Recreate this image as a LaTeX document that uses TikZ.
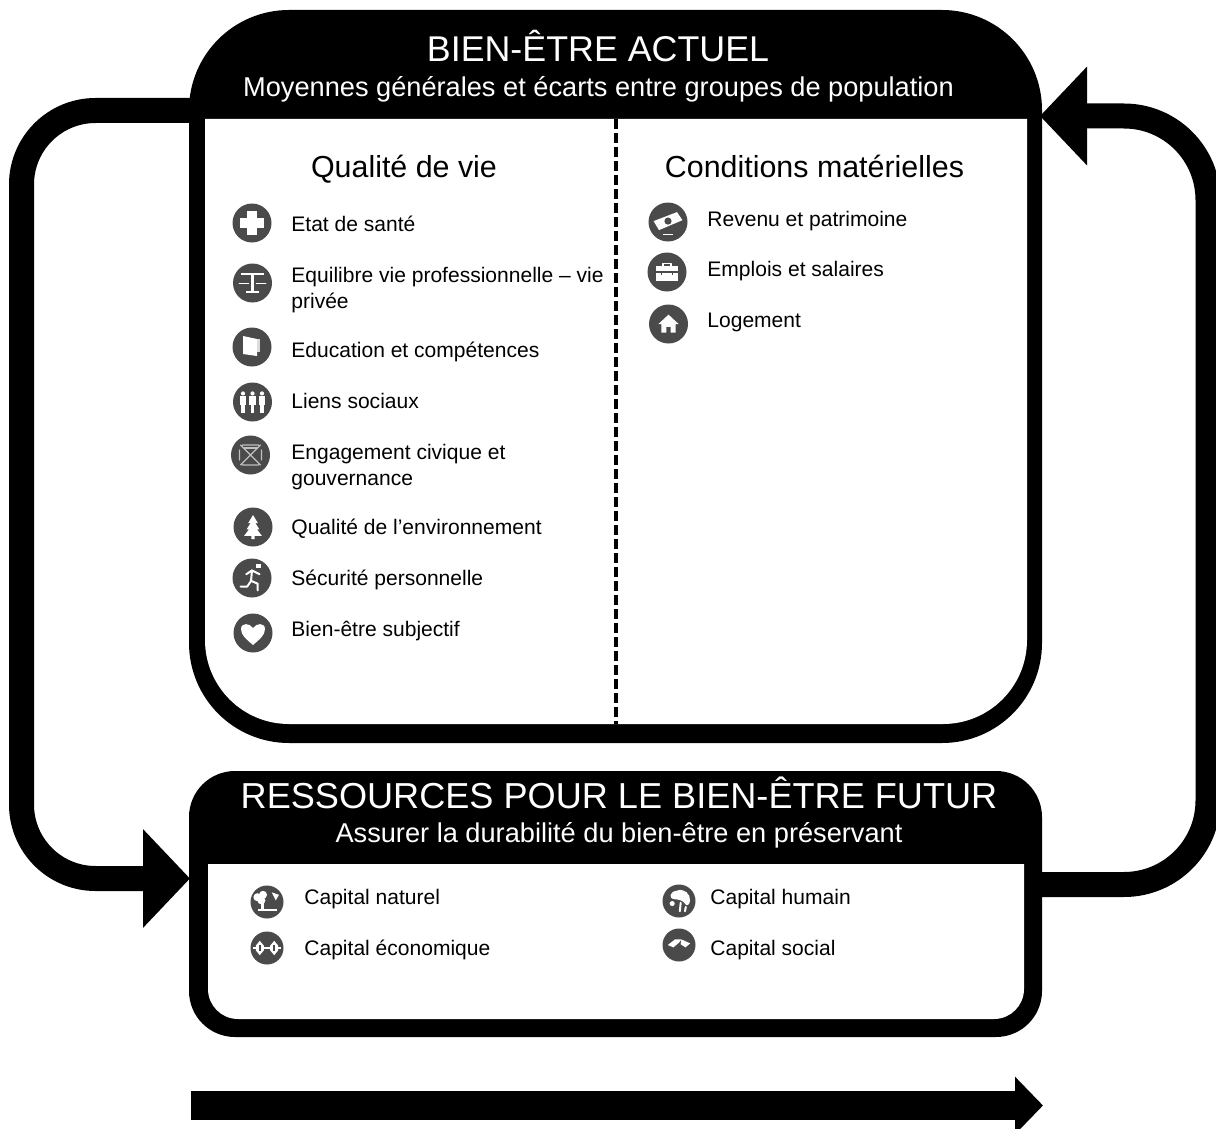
\documentclass[tikz,border=0pt]{standalone}
\usepackage{fontspec}
\setmainfont{Liberation Sans}
\usetikzlibrary{arrows.meta}
\definecolor{icong}{HTML}{4A4A4A}
\tikzset{
  shellbox/.style={fill=black,draw=none,inner sep=0pt,outer sep=0pt},
  loopline/.style={draw=black,line width=12.5pt,-{Triangle[length=23.5pt,width=48pt]}},
  body/.style={anchor=base west,inner sep=0pt,font=\fontsize{10.52}{13}\selectfont,text=black},
  bodytwo/.style={anchor=north west,align=left,inner sep=0pt,font=\fontsize{10.52}{13}\selectfont,text=black},
  headtxt/.style={anchor=base,inner sep=0pt,text=white},
  coltitle/.style={anchor=base,inner sep=0pt,font=\fontsize{15.2}{18}\selectfont,text=black},
  iconc/.style={circle,fill=icong,draw=none,inner sep=0pt,minimum size=#1},
  glyph/.style={fill=white,draw=none},
  gl/.style={draw=white,line width=.8pt,line cap=round,line join=round},
  gld/.style={fill=icong,draw=none}
}
\newcommand{\icn}[6]{% name x y diameter scale glyph
  \node[iconc=#4] (#1) at (#2,#3) {};
  \begin{scope}[shift={(#2,#3)},scale=#5]#6\end{scope}}
\newcommand{\gplus}{\fill[glyph] (-5,-13) rectangle (5,13); \fill[glyph] (-13,-5) rectangle (13,5);}
\newcommand{\gbal}{\fill[glyph] (-12,-11) rectangle (12,-8); \fill[glyph] (-1.2,-8) rectangle (1.2,9); \fill[glyph] (-7,8) rectangle (7,10.5);
  \draw[gl,line width=.5pt] (-14,1)--(-4,1) (4,1)--(14,1);}
\newcommand{\gbook}{\fill[glyph] (-9,-11)--(5,-8)--(5,9)--(-9,7)--cycle; \fill[white!80!icong] (5,-8) rectangle (8,5);}
\newcommand{\gpeople}{\foreach \a in {-10,0,10}{\fill[glyph] (\a,-9) circle (2.2); \fill[glyph] (\a-3.2,-6) rectangle (\a+3.2,3); \fill[glyph] (\a-1.8,3) rectangle (\a+1.8,12);}}
\newcommand{\gballot}{\draw[gl,draw=white!65!icong,line width=.7pt] (-10,-10)--(10,10) (10,-10)--(-10,10) (-8,-10)--(8,-10) (-8,10)--(8,10) (-11,-5)--(-11,5) (11,-5)--(11,5);
  \fill[white!65!icong] (-7,-8) rectangle (7,-6);}
\newcommand{\gtree}{\fill[glyph] (0,-15)--(6,-5)--(3,-5)--(8,3)--(5,3)--(11,11)--(2,11)--(2,15)--(-2,15)--(-2,11)--(-11,11)--(-5,3)--(-8,3)--(-3,-5)--(-6,-5)--cycle;}
\newcommand{\grun}{\fill[glyph] (4,-15) rectangle (9,-11); \draw[gl,line width=1pt] (-6,-4)--(0,-8)--(8,-4) (0,-8)--(-1,3)--(6,6)--(6,13) (-1,3)--(-5,9)--(-12,9);}
\newcommand{\gheart}{\fill[glyph] (0,15) .. controls (-8,8) and (-15,3) .. (-15,-5) .. controls (-15,-13) and (-4,-13) .. (0,-6) .. controls (4,-13) and (15,-13) .. (15,-5) .. controls (15,3) and (8,8) .. (0,15) -- cycle;}
\newcommand{\gmoney}{\fill[glyph] (-16,-1)--(10,-11)--(16,-2)--(-10,9)--cycle; \fill[gld] (0,-1) circle (4); \fill[glyph] (-6,13) rectangle (6,14);}
\newcommand{\gcase}{\draw[gl,line width=.7pt] (-5,-8)--(-5,-11)--(5,-11)--(5,-8); \fill[glyph] (-14,-8) rectangle (14,11); \fill[gld] (-14,-1) rectangle (14,1.5); \fill[gld] (-8,-1) rectangle (-6,4); \fill[gld] (6,-1) rectangle (8,4);}
\newcommand{\ghouse}{\fill[glyph] (0,-13)--(14,0)--(10,0)--(10,12)--(3,12)--(3,4)--(-3,4)--(-3,12)--(-10,12)--(-10,0)--(-14,0)--cycle;}
\newcommand{\gnat}{\fill[glyph] (-12,-6) circle (5); \fill[glyph] (-5,-9) circle (5); \fill[glyph] (-7,-2) circle (5); \fill[glyph] (-7,0) rectangle (-4,9); \fill[glyph] (6,-12)--(15,-9)--(11,-2)--cycle; \fill[glyph] (-11,9) rectangle (13,11);}
\newcommand{\geco}{\fill[glyph] (-18,-1.5) rectangle (18,1.5); \foreach \a in {-9,9}{\fill[glyph] (\a,-9)--(\a+5,-3)--(\a+5,3)--(\a,9)--(\a-5,3)--(\a-5,-3)--cycle; \fill[gld] (\a-1,-4) rectangle (\a+1,4);}}
\newcommand{\ghum}{\fill[glyph] (-3,-12) .. controls (6,-16) and (14,-8) .. (13,0) .. controls (12,6) and (8,6) .. (7,3) .. controls (4,-1) and (-1,-2) .. (-5,-2) .. controls (-13,-3) and (-11,-11) .. (-3,-12) -- cycle; \fill[glyph] (-8,3) circle (3); \draw[gl,line width=1pt] (2,2)--(1,12) (8,7)--(7,12);}
\newcommand{\gsoc}{\fill[glyph] (-14,0)--(-5,-7)--(3,-7)--(0,-3)--(-7,3)--cycle; \fill[glyph] (3,-7)--(14,-2)--(8,3)--(2,-1)--cycle;}
\begin{document}
\begin{tikzpicture}[x=.5pt,y=-.5pt]
\clip (0,0) rectangle (1216,1129);
% feedback loops (below the boxes)
\coordinate (ltop) at (200,110.5);
\coordinate (ltip) at (190,878.5);
\coordinate (rbot) at (1035,884.5);
\coordinate (rtip) at (1040,116);
\draw[loopline,rounded corners=37pt] (ltop) -- (21.5,110.5) -- (21.5,878.5) -- (ltip);
\draw[loopline,rounded corners=42pt] (rbot) -- (1208,884.5) -- (1208,116) -- (rtip);
% upper box
\node[shellbox,rounded corners=50pt,minimum width=426.5pt,minimum height=366.5pt] (topbox) at (615.5,376.5) {};
\fill[white,rounded corners=0pt] (205,119) -- (1027,119) [rounded corners=42pt] -- (1027,724) -- (205,724) [rounded corners=0pt] -- cycle;
\draw[black,line width=2pt,dash pattern=on 5pt off 2pt] (616,119) -- (616,724);
\node[headtxt,font=\fontsize{17.9}{20}\selectfont] (t1) at (598,62) {BIEN-ÊTRE ACTUEL};
\node[headtxt,font=\fontsize{13.6}{16}\selectfont] (t2) at (598.5,97) {Moyennes générales et écarts entre groupes de population};
\node[coltitle] (c1) at (404,177) {Qualité de vie};
\node[coltitle] (c2) at (814.5,177) {Conditions matérielles};
% left column
\icn{i1}{252}{223}{19.5pt}{.95}{\gplus}
\node[body] (a1) at (291,231) {Etat de santé};
\icn{i2}{252.5}{283}{19.5pt}{.95}{\gbal}
\node[bodytwo] (a2) at (291,266.5) {Equilibre vie professionnelle – vie\\privée};
\icn{i3}{252}{347}{19.5pt}{1}{\gbook}
\node[body] (a3) at (291,357) {Education et compétences};
\icn{i4}{252.5}{402}{19.5pt}{.95}{\gpeople}
\node[body] (a4) at (291,408) {Liens sociaux};
\icn{i5}{250.5}{455}{19.5pt}{1}{\gballot}
\node[bodytwo] (a5) at (291,443.5) {Engagement civique et\\gouvernance};
\icn{i6}{253}{527}{19.5pt}{.8}{\gtree}
\node[body] (a6) at (291,534) {Qualité de l’environnement};
\icn{i7}{252}{578}{19.5pt}{.95}{\grun}
\node[body] (a7) at (291,585) {Sécurité personnelle};
\icn{i8}{253}{633}{19.5pt}{.8}{\gheart}
\node[body] (a8) at (291,636) {Bien-être subjectif};
% right column
\icn{j1}{668}{222}{19.5pt}{.9}{\gmoney}
\node[body] (b1) at (707,227) {Revenu et patrimoine};
\icn{j2}{667}{272}{19.5pt}{.8}{\gcase}
\node[body] (b2) at (707,276) {Emplois et salaires};
\icn{j3}{668.5}{324}{19.5pt}{.72}{\ghouse}
\node[body] (b3) at (707,327) {Logement};
% lower box
\node[shellbox,rounded corners=23pt,minimum width=426.5pt,minimum height=133pt] (botbox) at (615.5,904) {};
\fill[white,rounded corners=0pt] (208,864) -- (1024,864) [rounded corners=15pt] -- (1024,1019) -- (208,1019) [rounded corners=0pt] -- cycle;
\node[headtxt,font=\fontsize{18.06}{22}\selectfont] (t3) at (619,808) {RESSOURCES POUR LE BIEN-ÊTRE FUTUR};
\node[headtxt,font=\fontsize{13.6}{16}\selectfont] (t4) at (619,842) {Assurer la durabilité du bien-être en préservant};
\icn{k1}{267}{902}{16.5pt}{.8}{\gnat}
\node[body] (d1) at (304,904) {Capital naturel};
\icn{k2}{267}{948}{16.5pt}{.8}{\geco}
\node[body] (d2) at (304,955) {Capital économique};
\icn{k3}{679}{901}{16.5pt}{.85}{\ghum}
\node[body] (d3) at (710,904) {Capital humain};
\icn{k4}{679}{945}{16.5pt}{.8}{\gsoc}
\node[body] (d4) at (710,955) {Capital social};
% bottom arrow
\coordinate (as) at (191,1105.5);
\coordinate (ae) at (1043,1105.5);
\draw[line width=14.5pt,-{Triangle[length=14pt,width=28pt]}] (as) -- (ae);
\end{tikzpicture}
\end{document}
